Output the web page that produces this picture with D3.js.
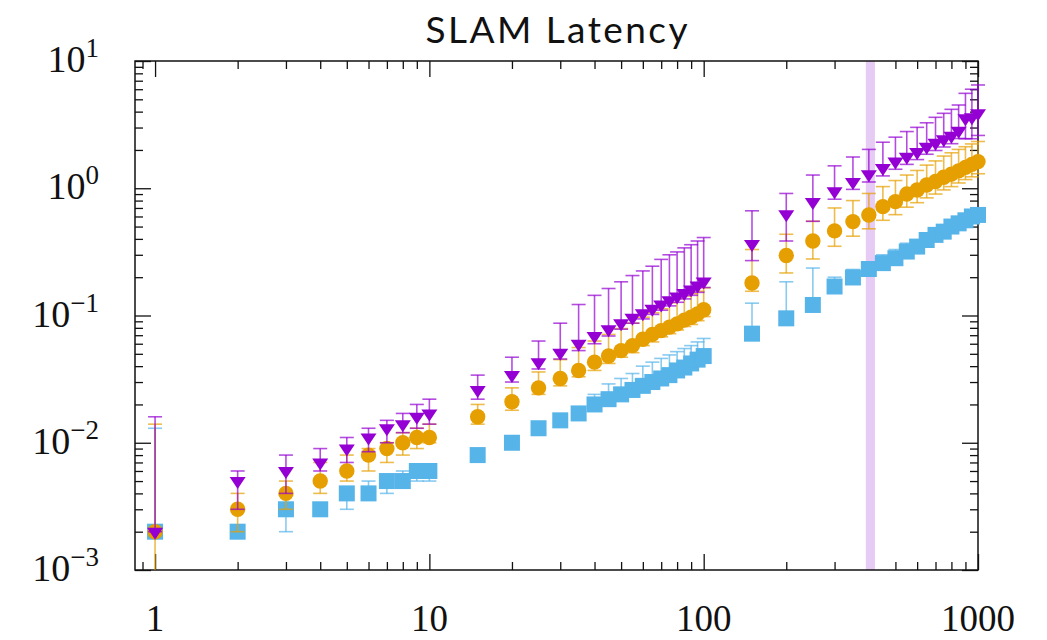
<!DOCTYPE html>
<html><head><meta charset="utf-8">
<script src="https://cdn.jsdelivr.net/npm/d3@7"></script>
<style>html,body{margin:0;padding:0;background:#fff;}</style>
</head><body>
<svg id="chart" width="1047" height="640"></svg>
<script>
// ---- data ----
const title = "SLAM Latency";
const xValues = [1,2,3,4,5,6,7,8,9,10,
  15,20,25,30,35,40,45,50,55,60,65,70,75,80,85,90,95,100,
  150,200,250,300,350,400,450,500,550,600,650,700,750,800,850,900,950,1000];

const blueMean = [0.002,0.002,0.003,0.003,0.004,0.004,0.005,0.005,0.006,0.006,
  0.008,0.010,0.013,0.015,0.017,0.020,0.022,0.024,0.026,0.028,0.030,0.032,0.034,0.037,0.039,0.042,0.045,0.048,
  0.072,0.095,0.121,0.169,0.199,0.232,0.258,0.282,0.318,0.348,0.392,0.430,0.456,0.500,0.530,0.560,0.600,0.617];
const blueHi = [0.013,0.002,0.004,0.003,0.004,0.005,0.005,0.006,0.006,0.006,
  0.008,0.010,0.013,0.015,0.017,0.024,0.029,0.032,0.035,0.040,0.043,0.046,0.049,0.052,0.055,0.058,0.062,0.066,
  0.125,0.184,0.236,0.200,0.230,0.260,0.300,0.330,0.370,0.390,0.430,0.470,0.500,0.540,0.570,0.600,0.640,0.660];
const blueLo = [0.002,0.002,0.002,0.003,0.003,0.004,0.004,0.005,0.005,0.005,
  0.008,0.010,0.013,0.015,0.017,0.020,0.022,0.024,0.026,0.028,0.030,0.032,0.034,0.037,0.039,0.042,0.045,0.048,
  0.072,0.095,0.121,0.169,0.199,0.232,0.258,0.282,0.318,0.348,0.392,0.430,0.456,0.500,0.530,0.560,0.600,0.617];

const orangeMean = [0.002,0.003,0.004,0.005,0.006,0.008,0.009,0.010,0.011,0.011,
  0.016,0.021,0.027,0.032,0.037,0.043,0.048,0.053,0.058,0.065,0.071,0.076,0.081,0.086,0.092,0.097,0.103,0.111,
  0.180,0.296,0.385,0.462,0.547,0.617,0.717,0.785,0.900,0.970,1.06,1.13,1.22,1.29,1.37,1.46,1.54,1.62];
const orangeHi = [0.014,0.004,0.005,0.007,0.008,0.009,0.010,0.012,0.013,0.014,
  0.020,0.027,0.036,0.045,0.056,0.063,0.071,0.079,0.087,0.097,0.105,0.113,0.126,0.136,0.142,0.148,0.155,0.165,
  0.330,0.435,0.550,0.700,0.800,0.910,1.03,1.15,1.27,1.38,1.52,1.64,1.79,1.90,2.02,2.12,2.23,2.33];
const orangeLo = [0.0001,0.002,0.003,0.004,0.005,0.006,0.007,0.008,0.009,0.010,
  0.014,0.018,0.024,0.028,0.033,0.037,0.042,0.047,0.051,0.058,0.062,0.068,0.072,0.077,0.082,0.085,0.091,0.098,
  0.155,0.216,0.278,0.350,0.420,0.480,0.560,0.620,0.710,0.770,0.840,0.900,0.970,1.03,1.10,1.17,1.23,1.30];

const purpleMean = [0.002,0.005,0.006,0.007,0.009,0.011,0.013,0.014,0.016,0.017,
  0.026,0.034,0.043,0.051,0.060,0.069,0.078,0.087,0.096,0.104,0.113,0.122,0.132,0.141,0.150,0.160,0.172,0.185,
  0.365,0.625,0.780,0.947,1.12,1.29,1.44,1.62,1.77,1.93,2.12,2.28,2.43,2.58,2.83,3.55,3.61,3.88];
const purpleHi = [0.016,0.006,0.008,0.009,0.011,0.013,0.015,0.017,0.020,0.022,
  0.034,0.047,0.063,0.087,0.122,0.144,0.163,0.184,0.206,0.224,0.244,0.276,0.300,0.316,0.340,0.360,0.385,0.410,
  0.665,0.910,1.27,1.50,1.76,2.02,2.30,2.52,2.79,3.01,3.27,3.61,3.88,4.17,4.51,5.57,6.00,6.48];
const purpleLo = [0.002,0.003,0.004,0.006,0.007,0.0085,0.010,0.012,0.013,0.014,
  0.022,0.030,0.038,0.0455,0.053,0.060,0.069,0.078,0.087,0.094,0.102,0.110,0.119,0.127,0.135,0.144,0.152,0.166,
  0.270,0.385,0.550,0.820,0.980,1.12,1.25,1.41,1.54,1.68,1.85,1.98,2.11,2.24,2.46,2.45,2.45,2.60];

const bandRange = [390, 421];
const xMajorTicks = [1, 10, 100, 1000];
const xTickLabels = ["1", "10", "100", "1000"];
const yMajorTicks = [1e-3, 1e-2, 1e-1, 1, 10];
const yTickExps = ["\u22123", "\u22122", "\u22121", "0", "1"];
const xMinorTicks = [0.9,2,3,4,5,6,7,8,9,20,30,40,50,60,70,80,90,200,300,400,500,600,700,800,900];
const yMinorTicks = [0.002,0.003,0.004,0.005,0.006,0.007,0.008,0.009,
  0.02,0.03,0.04,0.05,0.06,0.07,0.08,0.09,0.2,0.3,0.4,0.5,0.6,0.7,0.8,0.9,2,3,4,5,6,7,8,9];

const series = [
  {name: "blue", color: "#56B4E9", shape: "square", mean: blueMean, lo: blueLo, hi: blueHi},
  {name: "orange", color: "#E69F00", shape: "circle", mean: orangeMean, lo: orangeLo, hi: orangeHi},
  {name: "purple", color: "#9400D3", shape: "tri", mean: purpleMean, lo: purpleLo, hi: purpleHi}
];

// ---- layout ----
const L = 135, R = 978, T = 61, B = 570;
const svg = d3.select("#chart");
const x = d3.scaleLog().domain([0.845, 1000]).range([L, R]);
const y = d3.scaleLog().domain([1e-3, 10]).range([B, T]);

const axisG = svg.append("g");
function drawAxis(axisFn, scale, vals, size, transform) {
  const g = axisG.append("g").attr("transform", transform)
    .call(axisFn(scale).tickValues(vals).tickSize(size).tickFormat(""));
  g.select(".domain").remove();
  g.selectAll(".tick line").attr("stroke", "#111").attr("stroke-width", 1.3);
}
drawAxis(d3.axisBottom, x, xMajorTicks, -16, `translate(0,${B})`);
drawAxis(d3.axisBottom, x, xMinorTicks, -8, `translate(0,${B})`);
drawAxis(d3.axisTop, x, xMajorTicks, -16, `translate(0,${T})`);
drawAxis(d3.axisTop, x, xMinorTicks, -8, `translate(0,${T})`);
drawAxis(d3.axisLeft, y, yMajorTicks, -16, `translate(${L},0)`);
drawAxis(d3.axisLeft, y, yMinorTicks, -8, `translate(${L},0)`);
drawAxis(d3.axisRight, y, yMajorTicks, -16, `translate(${R},0)`);
drawAxis(d3.axisRight, y, yMinorTicks, -8, `translate(${R},0)`);

// band
svg.append("rect")
  .attr("x", x(bandRange[0])).attr("y", T)
  .attr("width", x(bandRange[1]) - x(bandRange[0])).attr("height", B - T)
  .attr("fill", "#e6cbf5");

// frame
svg.append("rect").attr("x", L).attr("y", T).attr("width", R - L).attr("height", B - T)
  .attr("fill", "none").attr("stroke", "#111").attr("stroke-width", 1.5);

// tick labels
svg.append("g").selectAll("text").data(xMajorTicks).join("text")
  .attr("x", d => x(d)).attr("y", 631)
  .attr("text-anchor", "middle")
  .attr("font-family", "'Liberation Serif', 'Times New Roman', serif")
  .attr("font-size", 37).attr("fill", "#111")
  .text((d, i) => xTickLabels[i]);

const yl = svg.append("g").selectAll("text").data(yMajorTicks).join("text")
  .attr("x", 99).attr("y", d => y(d) + 11)
  .attr("text-anchor", "end")
  .attr("font-family", "'Liberation Serif', 'Times New Roman', serif")
  .attr("font-size", 38).attr("fill", "#111");
yl.append("tspan").text("10");
yl.append("tspan").attr("dy", -15).attr("font-size", 27).text((d, i) => yTickExps[i]);

// title
svg.append("text").attr("x", (L + R) / 2).attr("y", 43)
  .attr("text-anchor", "middle")
  .attr("font-family", "Lato, 'Open Sans', sans-serif")
  .attr("font-size", 37).attr("fill", "#111")
  .attr("textLength", 262).attr("lengthAdjust", "spacing")
  .text(title);

// data
const capW = 7;
const yMin = y.domain()[0];
series.forEach(s => {
  const g = svg.append("g");
  const pts = xValues.map((xv, i) => ({x: xv, m: s.mean[i], lo: s.lo[i], hi: s.hi[i]}));
  const eb = g.append("g").attr("stroke", s.color).attr("stroke-width", 1.6).attr("stroke-opacity", 0.7).attr("fill", "none");
  pts.forEach(p => {
    const px = x(p.x);
    const yHi = y(p.hi);
    const loClamped = p.lo < yMin;
    const yLo = loClamped ? B : y(p.lo);
    if (Math.abs(yLo - yHi) < 0.5) return;
    eb.append("line").attr("x1", px).attr("x2", px).attr("y1", yHi).attr("y2", yLo);
    eb.append("line").attr("x1", px - capW).attr("x2", px + capW).attr("y1", yHi).attr("y2", yHi);
    if (!loClamped) eb.append("line").attr("x1", px - capW).attr("x2", px + capW).attr("y1", yLo).attr("y2", yLo);
  });
  const mk = g.append("g").attr("fill", s.color);
  pts.forEach(p => {
    const px = x(p.x), py = y(p.m);
    if (s.shape === "square") {
      mk.append("rect").attr("x", px - 8).attr("y", py - 8).attr("width", 16).attr("height", 16);
    } else if (s.shape === "circle") {
      mk.append("circle").attr("cx", px).attr("cy", py).attr("r", 7.7);
    } else {
      mk.append("path").attr("d", `M${px - 8},${py - 4}L${px + 8},${py - 4}L${px},${py + 8}Z`);
    }
  });
});
</script>
</body></html>
